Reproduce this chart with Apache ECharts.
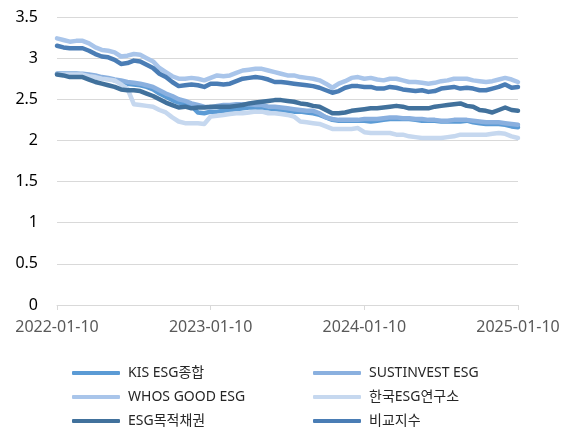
<!DOCTYPE html>
<html><head><meta charset="utf-8">
<script src="https://cdn.jsdelivr.net/npm/echarts@6/dist/echarts.min.js"></script>
<style>html,body{margin:0;padding:0;background:#fff}#c{width:563px;height:432px}</style>
</head><body><div id="c"></div>
<script>
var dates = [
'2022-01-10','2022-01-25','2022-02-10','2022-02-25','2022-03-10','2022-03-25','2022-04-10','2022-04-25','2022-05-10','2022-05-25','2022-06-10','2022-06-25',
'2022-07-10','2022-07-25','2022-08-10','2022-08-25','2022-09-10','2022-09-25','2022-10-10','2022-10-25','2022-11-10','2022-11-25','2022-12-10','2022-12-25',
'2023-01-10','2023-01-25','2023-02-10','2023-02-25','2023-03-10','2023-03-25','2023-04-10','2023-04-25','2023-05-10','2023-05-25','2023-06-10','2023-06-25',
'2023-07-10','2023-07-25','2023-08-10','2023-08-25','2023-09-10','2023-09-25','2023-10-10','2023-10-25','2023-11-10','2023-11-25','2023-12-10','2023-12-25',
'2024-01-10','2024-01-25','2024-02-10','2024-02-25','2024-03-10','2024-03-25','2024-04-10','2024-04-25','2024-05-10','2024-05-25','2024-06-10','2024-06-25',
'2024-07-10','2024-07-25','2024-08-10','2024-08-25','2024-09-10','2024-09-25','2024-10-10','2024-10-25','2024-11-10','2024-11-25','2024-12-10','2024-12-25',
'2025-01-10'];

var kis = [2.81,2.81,2.81,2.81,2.80,2.79,2.77,2.76,2.75,2.73,2.71,2.69,2.68,2.67,2.65,2.62,2.57,2.53,2.49,2.46,2.44,2.42,2.34,2.33,
2.35,2.35,2.36,2.37,2.38,2.39,2.40,2.40,2.39,2.39,2.38,2.37,2.36,2.35,2.35,2.34,2.33,2.31,2.28,2.25,2.24,2.24,2.24,2.24,
2.24,2.23,2.24,2.25,2.26,2.26,2.26,2.26,2.25,2.24,2.24,2.24,2.23,2.23,2.23,2.23,2.24,2.22,2.21,2.20,2.20,2.20,2.19,2.17,2.16];

var sust = [2.81,2.81,2.81,2.81,2.81,2.80,2.79,2.77,2.76,2.74,2.73,2.71,2.70,2.69,2.67,2.65,2.61,2.57,2.54,2.50,2.48,2.45,2.43,2.41,
2.40,2.42,2.43,2.43,2.44,2.44,2.44,2.43,2.43,2.41,2.41,2.40,2.39,2.38,2.37,2.36,2.36,2.33,2.28,2.26,2.25,2.25,2.25,2.25,
2.26,2.26,2.26,2.27,2.28,2.28,2.27,2.27,2.26,2.26,2.25,2.25,2.24,2.24,2.25,2.25,2.25,2.24,2.23,2.22,2.22,2.22,2.21,2.20,2.19];

var whos = [3.24,3.22,3.20,3.21,3.21,3.18,3.13,3.10,3.09,3.07,3.02,3.03,3.05,3.04,3.00,2.96,2.88,2.83,2.78,2.75,2.75,2.76,2.75,2.73,
2.76,2.79,2.78,2.79,2.82,2.85,2.86,2.87,2.87,2.85,2.83,2.81,2.79,2.79,2.77,2.76,2.75,2.73,2.69,2.64,2.69,2.72,2.76,2.77,
2.75,2.76,2.74,2.73,2.75,2.75,2.73,2.71,2.71,2.70,2.69,2.70,2.72,2.73,2.75,2.75,2.75,2.73,2.72,2.71,2.72,2.74,2.76,2.74,2.71];

var kesg = [2.80,2.80,2.80,2.80,2.80,2.78,2.77,2.75,2.74,2.73,2.68,2.63,2.44,2.43,2.42,2.41,2.37,2.34,2.28,2.23,2.21,2.21,2.21,2.20,
2.29,2.30,2.31,2.32,2.33,2.33,2.34,2.35,2.35,2.33,2.33,2.32,2.31,2.29,2.23,2.22,2.21,2.20,2.17,2.14,2.14,2.14,2.14,2.15,
2.10,2.09,2.09,2.09,2.09,2.07,2.07,2.05,2.04,2.03,2.03,2.03,2.03,2.04,2.05,2.07,2.07,2.07,2.07,2.07,2.08,2.09,2.08,2.05,2.03];

var bond = [2.80,2.79,2.77,2.77,2.77,2.74,2.71,2.69,2.67,2.65,2.62,2.61,2.61,2.60,2.57,2.54,2.50,2.46,2.43,2.40,2.41,2.39,2.40,2.40,
2.41,2.41,2.41,2.41,2.42,2.43,2.45,2.46,2.47,2.48,2.49,2.49,2.48,2.47,2.45,2.44,2.42,2.41,2.37,2.33,2.33,2.34,2.36,2.37,
2.38,2.39,2.39,2.40,2.41,2.42,2.41,2.39,2.39,2.39,2.39,2.41,2.42,2.43,2.44,2.45,2.42,2.41,2.37,2.36,2.34,2.37,2.40,2.37,2.36];

var bench = [3.15,3.13,3.12,3.12,3.12,3.09,3.05,3.02,3.01,2.98,2.93,2.94,2.97,2.96,2.92,2.88,2.81,2.77,2.71,2.66,2.67,2.68,2.67,2.65,
2.69,2.69,2.68,2.69,2.72,2.75,2.76,2.77,2.76,2.74,2.71,2.71,2.70,2.69,2.68,2.67,2.66,2.64,2.61,2.58,2.60,2.64,2.66,2.66,
2.65,2.65,2.63,2.63,2.65,2.64,2.62,2.61,2.60,2.61,2.59,2.60,2.63,2.64,2.65,2.63,2.64,2.63,2.61,2.61,2.63,2.65,2.68,2.64,2.65];

var names = ['KIS ESG종합','SUSTINVEST ESG','WHOS GOOD ESG','한국ESG연구소','ESG목적채권','비교지수'];
var colors = ['#5B9BD5','#8AB0DF','#A9C5EA','#C6D8EF','#41719C','#4A7DB5'];
var values = [kis, sust, whos, kesg, bond, bench];

var series = names.map(function(n, k){
  return {name:n, type:'line', data:values[k], symbol:'none', smooth:false,
    lineStyle:{width:4.5, color:colors[k], cap:'round', join:'round'}, itemStyle:{color:colors[k]}};
});

var font = "'Noto Sans', 'Noto Sans CJK KR', sans-serif";
var chart = echarts.init(document.getElementById('c'), null, {renderer:'canvas'});
function legendAt(left, items){
  return {orient:'vertical', left:left, top:365, height:66, padding:0, itemWidth:48, itemHeight:4, itemGap:8, icon:'roundRect',
    data:items,
    textStyle:{fontSize:14, color:'#262626', fontFamily:font, lineHeight:16, padding:[0,0,0,3]}};
}
chart.setOption({
  animation:false,
  backgroundColor:'#fff',
  grid:{left:57, right:45, top:17, bottom:127},
  legend:[ legendAt(72, [names[0],names[2],names[4]]), legendAt(313, [names[1],names[3],names[5]]) ],
  xAxis:{type:'category', data:dates, boundaryGap:false,
    axisLine:{lineStyle:{color:'#d9d9d9', width:1}},
    axisTick:{show:true, interval:23, length:5, lineStyle:{color:'#d9d9d9'}},
    axisLabel:{interval:23, color:'#595959', fontSize:16, fontFamily:font, margin:14, showMaxLabel:true}},
  yAxis:{type:'value', min:0, max:3.5, interval:0.5,
    axisLine:{show:false}, axisTick:{show:false},
    splitLine:{lineStyle:{color:'#d9d9d9', width:1}},
    axisLabel:{color:'#000', fontSize:16, fontFamily:font, margin:19}},
  series:series
});
</script></body></html>
